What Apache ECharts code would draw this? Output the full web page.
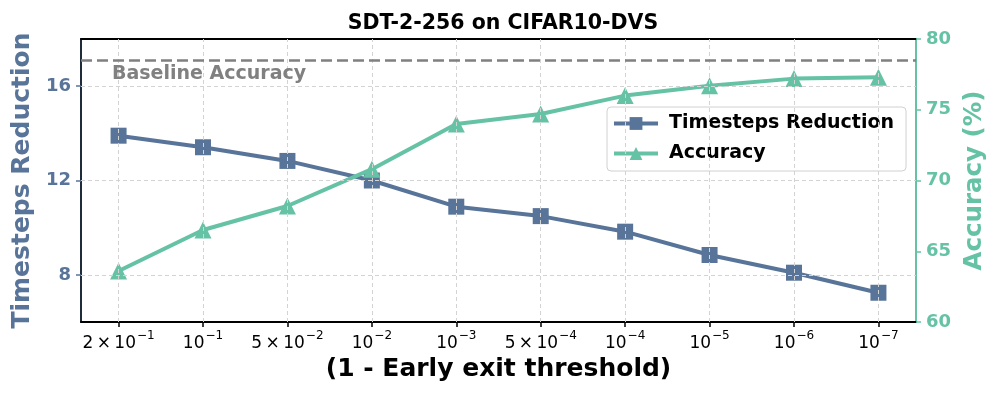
<!DOCTYPE html>
<html>
<head>
<meta charset="utf-8">
<script src="https://cdn.jsdelivr.net/npm/echarts@6/dist/echarts.min.js"></script>
<style>html,body{margin:0;padding:0;background:#fff;}#c{width:997px;height:399px;}</style>
</head>
<body>
<div id="c"></div>
<script>
// ---- data ----
var tickCoef = ['2', '', '5', '', '', '5', '', '', '', ''];
var tickExp = ['\u22121', '\u22121', '\u22122', '\u22122', '\u22123', '\u22124', '\u22124', '\u22125', '\u22126', '\u22127'];
var timestepsReduction = [13.90, 13.41, 12.83, 12.00, 10.89, 10.49, 9.83, 8.84, 8.09, 7.24];
var accuracy = [63.6, 66.5, 68.2, 70.8, 74.0, 74.7, 76.0, 76.7, 77.2, 77.3];
var baselineAccuracy = 78.5;
var leftTicks = [8, 12, 16];
var rightTicks = [60, 65, 70, 75, 80];

var BLUE = '#587499';
var GREEN = '#66c2a5';
var FONT = 'DejaVu Sans';

var idx = tickExp.map(function (_, i) { return i; });
function pairs(arr) { return arr.map(function (v, i) { return [i, v]; }); }

var chart = echarts.init(document.getElementById('c'));
var option = {
  animation: false,
  textStyle: { fontFamily: FONT },
  title: {
    text: 'SDT-2-256 on CIFAR10-DVS',
    left: 498, textAlign: 'center', top: 8,
    textStyle: { fontFamily: FONT, fontWeight: 'bold', fontSize: 20.5, color: '#000' }
  },
  grid: { left: 81, right: 81, top: 39, bottom: 77, outerBoundsMode: 'none', containLabel: false },
  legend: {
    data: ['Timesteps Reduction', 'Accuracy'],
    orient: 'vertical',
    left: 607, top: 107,
    padding: [7, 12, 8, 5],
    itemWidth: 44, itemHeight: 16, itemGap: 11,
    lineStyle: { width: 4 },
    backgroundColor: 'rgba(255,255,255,0.95)',
    borderColor: '#d0d0d0', borderWidth: 1, borderRadius: 4,
    textStyle: { fontFamily: FONT, fontWeight: 'bold', fontSize: 19, color: '#000', padding: [0, 0, 0, 6] }
  },
  xAxis: [{
    type: 'value', min: -0.445, max: 9.445,
    name: '(1 - Early exit threshold)', nameLocation: 'middle', nameGap: 33,
    nameTextStyle: { fontFamily: FONT, fontWeight: 'bold', fontSize: 25, color: '#000' },
    axisLine: { show: true, lineStyle: { color: '#000', width: 2 } },
    axisTick: { show: true, customValues: idx, length: 5, lineStyle: { color: '#000', width: 1.5 } },
    splitLine: { show: false },
    axisLabel: {
      customValues: idx, margin: 8, color: '#000',
      formatter: function (v) {
        var i = Math.round(v);
        var c = tickCoef[i] ? '{n|' + tickCoef[i] + '\u2009\u00d7\u200910}' : '{n|10}';
        return c + '{s|' + tickExp[i] + '}';
      },
      rich: {
        n: { fontFamily: FONT, fontSize: 17, color: '#000', lineHeight: 22, verticalAlign: 'bottom' },
        s: { fontFamily: FONT, fontSize: 12, color: '#000', lineHeight: 22, verticalAlign: 'top', padding: [0, 0, 6, 1] }
      }
    }
  }, {
    type: 'value', min: -0.445, max: 9.445, position: 'top',
    axisLine: { show: true, onZero: false, lineStyle: { color: '#000', width: 2 } },
    axisTick: { show: false }, axisLabel: { show: false }, splitLine: { show: false }
  }],
  yAxis: [{
    type: 'value', min: 6, max: 18, interval: 2, position: 'left',
    name: 'Timesteps Reduction', nameLocation: 'middle', nameGap: 43,
    nameTextStyle: { fontFamily: FONT, fontWeight: 'bold', fontSize: 25, color: BLUE },
    axisLine: { show: true, onZero: false, lineStyle: { color: '#1f2a3a', width: 2 } },
    axisTick: { show: true, customValues: leftTicks, length: 5, lineStyle: { color: BLUE, width: 1.5 } },
    axisLabel: { customValues: leftTicks, margin: 10, fontFamily: FONT, fontWeight: 'bold', fontSize: 18, color: BLUE },
    splitLine: { show: false }
  }, {
    type: 'value', min: 60, max: 80, interval: 5, position: 'right',
    name: 'Accuracy (%)', nameLocation: 'middle', nameGap: 40,
    nameTextStyle: { fontFamily: FONT, fontWeight: 'bold', fontSize: 24.5, color: GREEN },
    axisLine: { show: true, onZero: false, lineStyle: { color: GREEN, width: 2 } },
    axisTick: { show: true, length: 5, lineStyle: { color: GREEN, width: 1.5 } },
    axisLabel: { margin: 10, fontFamily: FONT, fontWeight: 'bold', fontSize: 18, color: GREEN },
    splitLine: { show: false }
  }],
  series: [{
    name: 'gridlines', type: 'line', data: [], z: 0, silent: true,
    xAxisIndex: 0, yAxisIndex: 0,
    markLine: {
      silent: true, symbol: 'none', label: { show: false },
      lineStyle: { color: '#d3d3d3', type: [4, 3], width: 1 },
      data: idx.map(function (i) { return { xAxis: i }; }).concat(leftTicks.map(function (t) { return { yAxis: t }; }))
    }
  }, {
    name: 'baseline', type: 'line', data: [], z: 1, silent: true,
    xAxisIndex: 0, yAxisIndex: 1,
    markLine: {
      silent: true, symbol: 'none',
      lineStyle: { color: '#808080', type: [11, 5], width: 2.5 },
      label: { show: false },
      data: [{ yAxis: baselineAccuracy }]
    }
  }, {
    name: 'Timesteps Reduction', type: 'line', z: 3,
    xAxisIndex: 0, yAxisIndex: 0,
    data: pairs(timestepsReduction),
    symbol: 'rect', symbolSize: 16,
    lineStyle: { color: BLUE, width: 4 },
    itemStyle: { color: BLUE }
  }, {
    name: 'Accuracy', type: 'line', z: 4,
    xAxisIndex: 0, yAxisIndex: 1,
    data: pairs(accuracy),
    symbol: 'triangle', symbolSize: 17,
    lineStyle: { color: GREEN, width: 4 },
    itemStyle: { color: GREEN }
  }],
  graphic: [{
    type: 'text', left: 112, top: 65, z: 10,
    style: { text: 'Baseline Accuracy', fontFamily: FONT, fontWeight: 'bold', fontSize: 19, fill: '#808080' }
  }]
};
chart.setOption(option);
</script>
</body>
</html>
